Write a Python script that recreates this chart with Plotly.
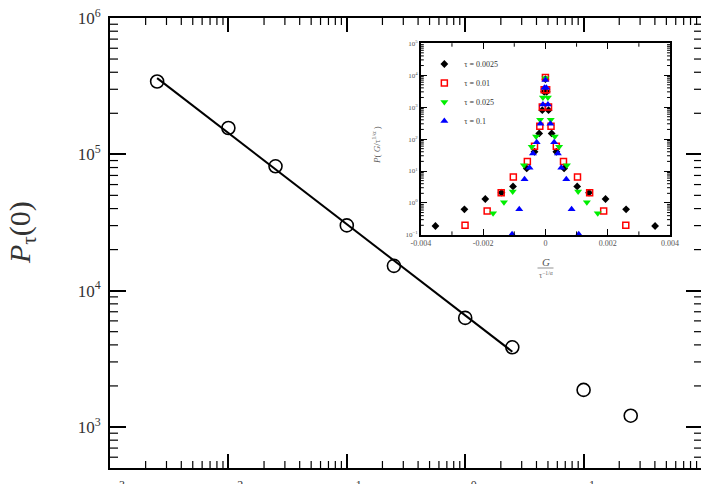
import numpy as np
import plotly.graph_objects as go

# ---- main panel data ----
tau = [0.0025, 0.01, 0.025, 0.1, 0.25, 1, 2.5, 10, 25]
p_tau0 = [3.42e5, 1.56e5, 8.17e4, 3.01e4, 1.52e4, 6.31e3, 3.84e3, 1.87e3, 1.21e3]
n_fit = 7  # points used by the power-law fit line

x_exponents = [-3, -2, -1, 0, 1, 2]
y_exponents = [3, 4, 5, 6]

# ---- inset data ----
g_0025 = [-0.00353, -0.0026, -0.00193, -0.00141, -0.00104, -0.0006, -0.00035, -0.0002, -0.0001, -0.00004, 0,
          0.00004, 0.0001, 0.0002, 0.00035, 0.0006, 0.00102, 0.0014, 0.00193, 0.00259, 0.00352]
p_0025 = [0.19, 0.63, 1.33, 2.1, 3.3, 12, 40, 150, 800, 3000, 7500,
          3000, 800, 150, 40, 12, 3.3, 2.1, 1.33, 0.63, 0.19]

g_01 = [-0.00258, -0.00187, -0.00142, -0.00103, -0.00058, -0.00035, -0.00018, -0.0001, -0.00004, 0,
        0.00004, 0.0001, 0.00018, 0.00035, 0.00058, 0.00103, 0.00142, 0.00187, 0.00258]
p_01 = [0.2, 0.56, 2.1, 6.5, 20, 60, 250, 1000, 3500, 8500,
        3500, 1000, 250, 60, 20, 6.5, 2.1, 0.56, 0.2]

g_025 = [-0.00168, -0.00133, -0.00105, -0.00069, -0.00044, -0.0003, -0.00017, -0.00008, 0,
         0.00008, 0.00017, 0.0003, 0.00044, 0.00069, 0.00105, 0.00133, 0.00168]
p_025 = [0.48, 1.05, 2.3, 15, 57, 120, 400, 2000, 8000,
         2000, 400, 120, 57, 15, 2.3, 1.05, 0.48]

g_1 = [-0.00107, -0.00084, -0.00067, -0.00051, -0.0004, -0.00028, -0.00016, -0.00008, -0.00003, 0,
       0.00003, 0.00008, 0.00016, 0.00028, 0.0004, 0.00051, 0.00067, 0.00084, 0.00107]
p_1 = [0.105, 0.63, 5.5, 12.6, 35, 80, 300, 1200, 4000, 7000,
       4000, 1200, 300, 80, 35, 12.6, 5.5, 0.63, 0.105]

legend_labels = ["τ = 0.0025", "τ = 0.01", "τ = 0.025", "τ = 0.1"]
inset_x_ticks = [-0.004, -0.002, 0, 0.002, 0.004]
inset_x_ticktext = ["-0.004", "-0.002", "0", "0.002", "0.004"]
inset_x_minor = [-0.003, -0.001, 0.001, 0.003]
inset_y_exponents = [-1, 0, 1, 2, 3, 4, 5]

SERIF = "Liberation Serif, Times New Roman, serif"

# layout geometry (page body adds an 8px offset, compensated in the margins)
W, H = 709, 484
M_L, M_R, M_T, M_B = 102, 15, 10, 24
PW, PH = W - M_L - M_R, H - M_T - M_B
X_RANGE = [-3, 2]
Y_RANGE = [np.log10(500), 6]
INSET_XDOM = [0.525, 0.946]
INSET_YDOM = [0.518, 0.944]
INSET_XRANGE = [-0.004, 0.004]
INSET_YRANGE = [-1, 5]


def pow_label(e):
    return "10<sup>%s</sup>" % (str(e).replace("-", "−"))


def minor_log(lo, hi):
    vals = []
    for e in range(int(np.floor(lo)) - 1, int(np.ceil(hi)) + 1):
        for m in range(2, 10):
            v = np.log10(m * 10.0 ** e)
            if lo < v < hi:
                vals.append(v)
    return vals


# power-law fit over first points
lx = np.log10(tau[:n_fit])
ly = np.log10(p_tau0[:n_fit])
slope, icpt = np.polyfit(lx, ly, 1)
fit_x = [tau[0], tau[n_fit - 1]]
fit_y = [10 ** (icpt + slope * np.log10(v)) for v in fit_x]

fig = go.Figure()

fig.add_trace(go.Scatter(x=fit_x, y=fit_y, mode="lines",
                         line=dict(color="black", width=2), showlegend=False,
                         xaxis="x", yaxis="y"))
fig.add_trace(go.Scatter(x=tau, y=p_tau0, mode="markers",
                         marker=dict(symbol="circle-open", size=13, color="black",
                                     line=dict(width=1.6, color="black")),
                         showlegend=False, xaxis="x", yaxis="y"))

inset_series = [
    (g_0025, p_0025, legend_labels[0], dict(symbol="diamond", size=6, color="black")),
    (g_01, p_01, legend_labels[1], dict(symbol="square-open", size=6, color="red",
                                        line=dict(width=1.5, color="red"))),
    (g_025, p_025, legend_labels[2], dict(symbol="triangle-down", size=7, color="#00ee00")),
    (g_1, p_1, legend_labels[3], dict(symbol="triangle-up", size=7, color="#0000ff")),
]
for gx, py, name, mk in inset_series:
    fig.add_trace(go.Scatter(x=gx, y=py, mode="markers", name=name, marker=mk,
                             xaxis="x2", yaxis="y2"))

axis_common = dict(showline=True, linecolor="black", mirror="allticks", automargin=False,
                   ticks="inside", tickcolor="black", showgrid=False, zeroline=False,
                   ticklabeloverflow="allow")

fig.update_layout(
    width=W, height=H,
    margin=dict(l=M_L, r=M_R, t=M_T, b=M_B),
    paper_bgcolor="white", plot_bgcolor="white",
    font=dict(family=SERIF, color="#222"),
    xaxis=dict(type="log", range=X_RANGE,
               tickmode="array", tickvals=[10.0 ** e for e in x_exponents],
               ticktext=[pow_label(e) for e in x_exponents],
               linewidth=2, ticklen=14, tickwidth=1.5,
               tickfont=dict(size=17, family=SERIF, color="#333"),
               ticklabelstandoff=6,
               **axis_common),
    yaxis=dict(type="log", range=Y_RANGE,
               tickmode="array", tickvals=[10.0 ** e for e in y_exponents],
               ticktext=[pow_label(e) for e in y_exponents],
               linewidth=2, ticklen=16, tickwidth=1.5,
               tickfont=dict(size=17, family=SERIF, color="#333"),
               ticklabelstandoff=4,
               **axis_common),
    xaxis2=dict(domain=INSET_XDOM, anchor="y2", range=INSET_XRANGE,
                tickmode="array", tickvals=inset_x_ticks, ticktext=inset_x_ticktext,
                linewidth=1.5, ticklen=6, tickwidth=1.2,
                tickfont=dict(size=8, family=SERIF, color="#555"),
                **axis_common),
    yaxis2=dict(domain=INSET_YDOM, anchor="x2", type="log", range=INSET_YRANGE,
                tickmode="array", tickvals=[10.0 ** e for e in inset_y_exponents],
                ticktext=[pow_label(e) for e in inset_y_exponents],
                linewidth=1.5, ticklen=6, tickwidth=1.2,
                tickfont=dict(size=7, family=SERIF, color="#555"),
                **axis_common),
    legend=dict(x=0.531, y=0.930, xanchor="left", yanchor="top",
                bgcolor="rgba(0,0,0,0)", font=dict(size=8, family=SERIF, color="#333"),
                itemwidth=30, tracegroupgap=0),
    showlegend=True,
)

# ---- minor ticks (axis decorations) drawn as short paper-referenced segments ----
shapes = []


def vtick(xp, y_edge, length, direction, width=1.2):
    shapes.append(dict(type="line", xref="paper", yref="paper", x0=xp, x1=xp,
                       y0=y_edge, y1=y_edge + direction * length,
                       line=dict(color="black", width=width)))


def htick(yp, x_edge, length, direction, width=1.2):
    shapes.append(dict(type="line", xref="paper", yref="paper", y0=yp, y1=yp,
                       x0=x_edge, x1=x_edge + direction * length,
                       line=dict(color="black", width=width)))


# main x minor ticks
for v in minor_log(*X_RANGE):
    xp = (v - X_RANGE[0]) / (X_RANGE[1] - X_RANGE[0])
    vtick(xp, 0, 7 / PH, 1)
    vtick(xp, 1, 7 / PH, -1)
# main y minor ticks
for v in minor_log(*Y_RANGE):
    yp = (v - Y_RANGE[0]) / (Y_RANGE[1] - Y_RANGE[0])
    htick(yp, 0, 8 / PW, 1)
    htick(yp, 1, 8 / PW, -1)
# inset x minor ticks
for g in inset_x_minor:
    xp = INSET_XDOM[0] + (g - INSET_XRANGE[0]) / (INSET_XRANGE[1] - INSET_XRANGE[0]) * (INSET_XDOM[1] - INSET_XDOM[0])
    vtick(xp, INSET_YDOM[0], 3.5 / PH, 1, 1)
    vtick(xp, INSET_YDOM[1], 3.5 / PH, -1, 1)
# inset y minor ticks
for v in minor_log(*INSET_YRANGE):
    yp = INSET_YDOM[0] + (v - INSET_YRANGE[0]) / (INSET_YRANGE[1] - INSET_YRANGE[0]) * (INSET_YDOM[1] - INSET_YDOM[0])
    htick(yp, INSET_XDOM[0], 3 / PW, 1, 1)
    htick(yp, INSET_XDOM[1], 3 / PW, -1, 1)

fig.update_layout(shapes=shapes)


def py_paper(screen_y):
    # screen y (reference picture pixels) -> paper fraction of the plot area
    return (468 - screen_y) / PH


def px_paper(screen_x):
    return (screen_x - 110) / PW


# main y-axis title
fig.add_annotation(text="<i>P</i><sub>τ</sub>(0)", xref="paper", yref="paper",
                   x=px_paper(22), y=py_paper(233), xanchor="center", yanchor="middle", textangle=-90,
                   showarrow=False, font=dict(size=30, family=SERIF, color="#333"))

# inset x title as a fraction
fig.add_annotation(text="<i>G</i>", xref="paper", yref="paper", x=px_paper(545.5), y=py_paper(262),
                   xanchor="center", yanchor="middle", showarrow=False,
                   font=dict(size=11, family=SERIF, color="#555"))
fig.add_shape(type="line", xref="paper", yref="paper", x0=px_paper(537.5), x1=px_paper(553.5),
              y0=py_paper(268), y1=py_paper(268), line=dict(color="#777", width=0.8))
fig.add_annotation(text="τ<sup>−1/α</sup>", xref="paper", yref="paper", x=px_paper(545.5), y=py_paper(275),
                   xanchor="center", yanchor="middle", showarrow=False,
                   font=dict(size=8, family=SERIF, color="#666"))
# inset y title
fig.add_annotation(text="<i>P</i>( <i>G</i>/τ<sup>1/α</sup> )", xref="paper", yref="paper",
                   x=px_paper(376), y=py_paper(145), xanchor="center", yanchor="middle",
                   textangle=-90, showarrow=False, font=dict(size=9, family=SERIF, color="#666"))

fig.write_html("out.html")
